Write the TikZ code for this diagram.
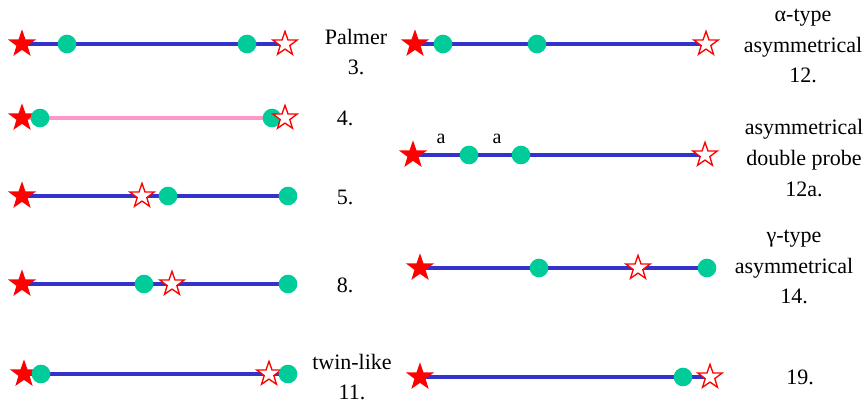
\documentclass[tikz,border=0pt]{standalone}
\usepackage{fontspec}
\setmainfont{LiberationSerif}[Extension=.ttf, UprightFont=*-Regular, BoldFont=*-Bold]
\usetikzlibrary{shapes.geometric,backgrounds}
\definecolor{lineblue}{RGB}{51,51,204}
\definecolor{linepink}{RGB}{255,150,200}
\definecolor{probegreen}{RGB}{0,204,153}
\tikzset{
  fstar/.style={star, star points=5, star point ratio=2.5, fill=red, draw=none, minimum size=22pt, inner sep=0pt},
  ostar/.style={star, star points=5, star point ratio=2.5, fill=white, draw=red, line width=1pt, minimum size=19pt, inner sep=0pt},
  probe/.style={circle, fill=probegreen, draw=none, minimum size=14pt, inner sep=0pt},
  chain/.style={line width=2.3pt, lineblue},
  pchain/.style={line width=2.3pt, linepink},
  lbl/.style={align=center, font=\fontsize{16.5}{22.9}\selectfont, inner sep=0pt},
  alab/.style={font=\fontsize{15}{18}\selectfont, inner sep=0pt}
}
\begin{document}
\begin{tikzpicture}[x=0.75pt, y=-0.75pt]
\useasboundingbox (0,0) rectangle (866,405);
% Row 1 left
\node[fstar] (L1s) at (22,44) {};
\node[probe] (L1a) at (67,44) {};
\node[probe] (L1b) at (247,44) {};
\node[ostar] (L1o) at (285,44) {};
\node[lbl] (T1) at (356,52) {Palmer\\3.};
% Row 2 left
\node[fstar] (L2s) at (22,118) {};
\node[probe] (L2a) at (40,118) {};
\node[probe] (L2b) at (272,118) {};
\node[ostar] (L2o) at (285,118) {};
\node[lbl] (T2) at (345,118) {4.};
% Row 3 left
\node[fstar] (L3s) at (22,196) {};
\node[ostar] (L3o) at (142,196) {};
\node[probe] (L3a) at (168,196) {};
\node[probe] (L3b) at (288,196) {};
\node[lbl] (T3) at (345,197) {5.};
% Row 4 left
\node[fstar] (L4s) at (22,284) {};
\node[probe] (L4a) at (144,284) {};
\node[ostar] (L4o) at (172,284) {};
\node[probe] (L4b) at (288,284) {};
\node[lbl] (T4) at (345,285) {8.};
% Row 5 left
\node[fstar] (L5s) at (24,374) {};
\node[probe] (L5a) at (41,374) {};
\node[ostar] (L5o) at (269,374) {};
\node[probe] (L5b) at (288,374) {};
\node[lbl] (T5) at (352,377) {twin-like\\11.};
% Row 1 right
\node[fstar] (R1s) at (415,44) {};
\node[probe] (R1a) at (443,44) {};
\node[probe] (R1b) at (537,44) {};
\node[ostar] (R1o) at (706,44) {};
\node[lbl] (U1) at (803,46) {α-type\\asymmetrical\\12.};
% Row 2 right
\node[fstar] (R2s) at (413,155) {};
\node[probe] (R2a) at (469,155) {};
\node[probe] (R2b) at (521,155) {};
\node[ostar] (R2o) at (705,155) {};
\node[alab] (A1) at (441,139) {a};
\node[alab] (A2) at (497,139) {a};
\node[lbl] (U2) at (804,158) {asymmetrical\\double probe\\12a.};
% Row 3 right
\node[fstar] (R3s) at (420,268) {};
\node[probe] (R3a) at (539,268) {};
\node[ostar] (R3o) at (638,268) {};
\node[probe] (R3b) at (707,268) {};
\node[lbl] (U3) at (794,267) {γ-type\\asymmetrical\\14.};
% Row 4 right
\node[fstar] (R4s) at (420,377) {};
\node[probe] (R4a) at (683,377) {};
\node[ostar] (R4o) at (710,377) {};
\node[lbl] (U4) at (800,377) {19.};
% chains behind the markers
\begin{scope}[on background layer]
\draw[chain] (L1s.center) -- (L1o.center);
\draw[pchain] (L2s.center) -- (L2o.center);
\draw[chain] (L3s.center) -- (L3b.center);
\draw[chain] (L4s.center) -- (L4b.center);
\draw[chain] (L5s.center) -- (L5b.center);
\draw[chain] (R1s.center) -- (R1o.center);
\draw[chain] (R2s.center) -- (R2o.center);
\draw[chain] (R3s.center) -- (R3b.center);
\draw[chain] (R4s.center) -- (R4o.center);
\end{scope}
\end{tikzpicture}
\end{document}
